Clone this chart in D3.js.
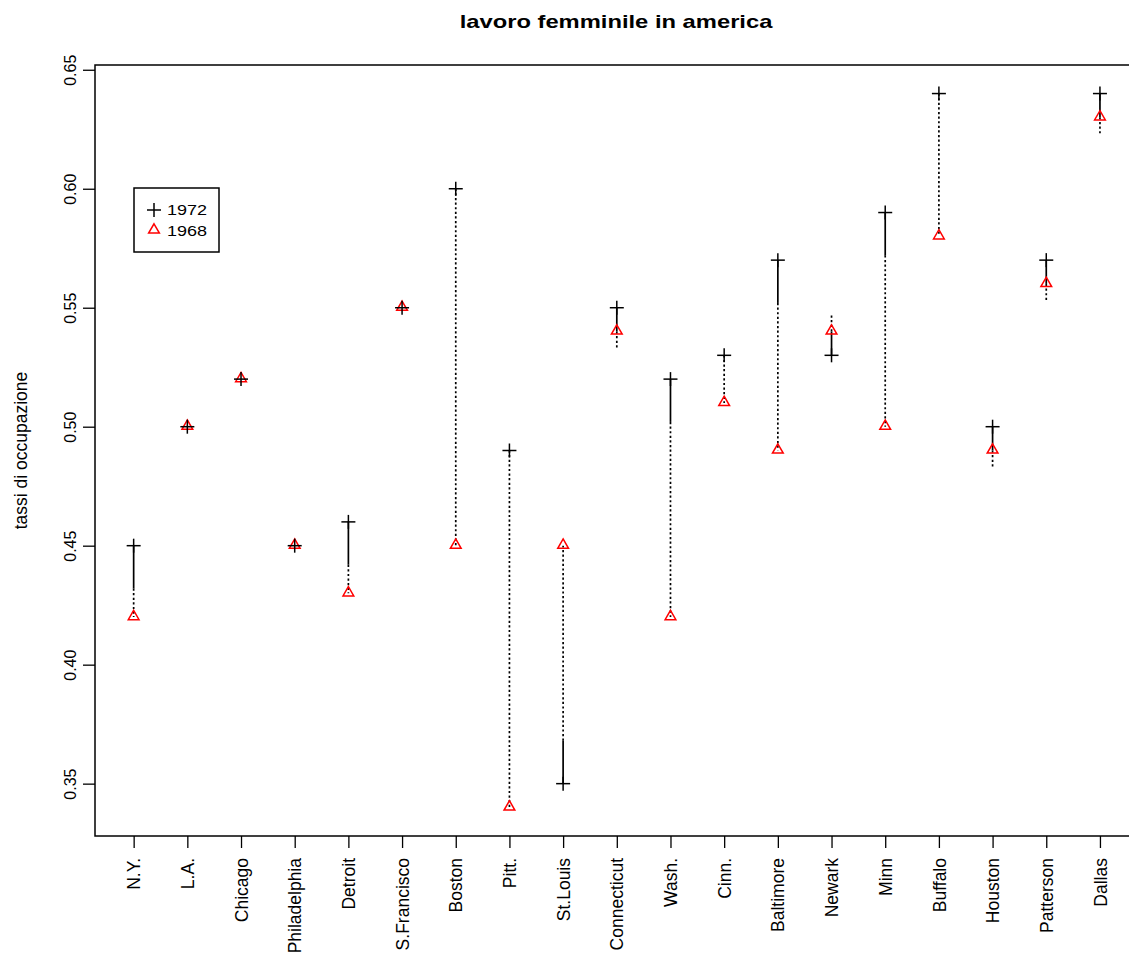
<!DOCTYPE html>
<html>
<head>
<meta charset="utf-8">
<script src="https://cdn.jsdelivr.net/npm/d3@7"></script>
<style>
  body { margin: 0; background: #fff; }
  svg { font-family: "Liberation Sans", Arial, sans-serif; }
</style>
</head>
<body>
<div id="chart"></div>
<script>
// Data
const cities = ["N.Y.", "L.A.", "Chicago", "Philadelphia", "Detroit", "S.Francisco", "Boston", "Pitt.",
  "St.Louis", "Connecticut", "Wash.", "Cinn.", "Baltimore", "Newark", "Minn", "Buffalo", "Houston",
  "Patterson", "Dallas"];
const rate1972 = [0.45, 0.50, 0.52, 0.45, 0.46, 0.55, 0.60, 0.49, 0.35, 0.55, 0.52, 0.53, 0.57, 0.53,
  0.59, 0.64, 0.50, 0.57, 0.64];
const rate1968 = [0.42, 0.50, 0.52, 0.45, 0.43, 0.55, 0.45, 0.34, 0.45, 0.54, 0.42, 0.51, 0.49, 0.54,
  0.50, 0.58, 0.49, 0.56, 0.63];
// which connectors start with a short solid piece at the 1972 end
const solidStart = [1, 0, 0, 0, 1, 0, 0, 0, 1, 1, 1, 0, 1, 1, 1, 0, 1, 1, 1];
const yTicks = [0.35, 0.40, 0.45, 0.50, 0.55, 0.60, 0.65];
const legendLabels = ["1972", "1968"];

const width = 1129, height = 956;
const margin = { left: 95, top: 65, bottom: 836 };

const svg = d3.select('#chart').append('svg')
  .attr('width', width)
  .attr('height', height);

// R-style 4% padding on both axes
const x = d3.scaleLinear().domain([0.28, 19.72]).range([margin.left, 1138.6]);
const y = d3.scaleLinear().domain([0.328, 0.652]).range([margin.bottom, margin.top]);

// title (the reference is stretched a bit horizontally)
svg.append('text')
  .attr('transform', 'translate(616,28) scale(1.25,1)')
  .attr('text-anchor', 'middle')
  .style('font-size', '19px')
  .style('font-weight', 'bold')
  .text('lavoro femminile in america');

// y axis label
svg.append('text')
  .attr('transform', `translate(27,${(margin.top + margin.bottom) / 2}) rotate(-90)`)
  .attr('text-anchor', 'middle')
  .style('font-size', '17.5px')
  .text('tassi di occupazione');

// plot frame
svg.append('rect')
  .attr('x', x(0.28)).attr('y', y(0.652))
  .attr('width', x(19.72) - x(0.28))
  .attr('height', y(0.328) - y(0.652))
  .attr('fill', 'none')
  .attr('stroke', '#000')
  .attr('stroke-width', 1.5);

// y axis
const yAxis = svg.append('g')
  .attr('transform', `translate(${margin.left},0)`)
  .call(d3.axisLeft(y).tickValues(yTicks).tickFormat(d3.format('.2f')).tickSize(12));
yAxis.select('.domain').remove();
yAxis.selectAll('line').attr('stroke-width', 1.3);
yAxis.selectAll('text')
  .style('font-size', '16px')
  .attr('x', 0).attr('y', 0)
  .attr('dy', '0.35em')
  .attr('text-anchor', 'middle')
  .attr('transform', 'translate(-25,0) rotate(-90)');

// x axis
const xAxis = svg.append('g')
  .attr('transform', `translate(0,${margin.bottom})`)
  .call(d3.axisBottom(x).tickValues(d3.range(1, cities.length + 1)).tickFormat(i => cities[i - 1]).tickSize(12));
xAxis.select('.domain').remove();
xAxis.selectAll('line').attr('stroke-width', 1.3);
xAxis.selectAll('text')
  .style('font-size', '17.5px')
  .attr('transform', 'rotate(-90)')
  .attr('text-anchor', 'end')
  .attr('x', -22)
  .attr('y', 0)
  .attr('dy', '0.35em');

// connectors: optional short solid piece at the 1972 end, dotted for the rest
const rows = cities.map((c, i) => {
  const diff = rate1968[i] - rate1972[i];
  const dir = Math.sign(diff);
  const solidEnd = solidStart[i] ? rate1972[i] + dir * Math.min(Math.abs(diff), 0.018) : rate1972[i];
  const dotEnd = rate1972[i] + dir * Math.max(Math.abs(diff), 0.017);
  return { i: i + 1, a: rate1972[i], b: rate1968[i], solid: solidStart[i], dir, solidEnd, dotEnd };
});
const g = svg.append('g');

g.selectAll('line.dot')
  .data(rows.filter(d => d.dir !== 0))
  .enter().append('line')
  .attr('class', 'dot')
  .attr('x1', d => x(d.i)).attr('x2', d => x(d.i))
  .attr('y1', d => y(d.solidEnd))
  .attr('y2', d => y(d.dotEnd))
  .attr('stroke', '#000')
  .attr('stroke-width', 1.7)
  .attr('stroke-dasharray', '2.2,2.4');

g.selectAll('line.solid')
  .data(rows.filter(d => d.solid && d.dir !== 0))
  .enter().append('line')
  .attr('class', 'solid')
  .attr('x1', d => x(d.i)).attr('x2', d => x(d.i))
  .attr('y1', d => y(d.a))
  .attr('y2', d => y(d.solidEnd))
  .attr('stroke', '#000')
  .attr('stroke-width', 1.7);

// triangle (pch 2) and cross (pch 3)
const tri = d3.symbol().type(d3.symbolTriangle).size(50);
g.selectAll('path.t68')
  .data(rows)
  .enter().append('path')
  .attr('class', 't68')
  .attr('d', tri)
  .attr('transform', d => `translate(${x(d.i)},${y(d.b) - 0.5})`)
  .attr('fill', 'none')
  .attr('stroke', '#ff0000')
  .attr('stroke-width', 1.5);

function cross(sel) {
  sel.append('line').attr('x1', -7).attr('x2', 7).attr('y1', 0).attr('y2', 0);
  sel.append('line').attr('x1', 0).attr('x2', 0).attr('y1', -7).attr('y2', 7);
  sel.selectAll('line').attr('stroke', '#000').attr('stroke-width', 1.5);
}
g.selectAll('g.c72')
  .data(rows)
  .enter().append('g')
  .attr('class', 'c72')
  .attr('transform', d => `translate(${x(d.i)},${y(d.a)})`)
  .call(cross);

// legend
const legend = svg.append('g').attr('transform', 'translate(134,188)');
legend.append('rect')
  .attr('width', 85).attr('height', 64)
  .attr('fill', '#fff')
  .attr('stroke', '#000')
  .attr('stroke-width', 1.5);
legend.append('g').attr('transform', 'translate(20,22)').call(cross);
legend.append('path').attr('d', tri)
  .attr('transform', 'translate(20,42)')
  .attr('fill', 'none').attr('stroke', '#ff0000').attr('stroke-width', 1.5);
legend.selectAll('text.lab')
  .data(legendLabels)
  .enter().append('text')
  .attr('class', 'lab')
  .attr('transform', (d, i) => `translate(33,${22 + i * 21}) scale(1.2,1)`)
  .attr('dy', '0.35em')
  .style('font-size', '15px')
  .text(d => d);
</script>
</body>
</html>
